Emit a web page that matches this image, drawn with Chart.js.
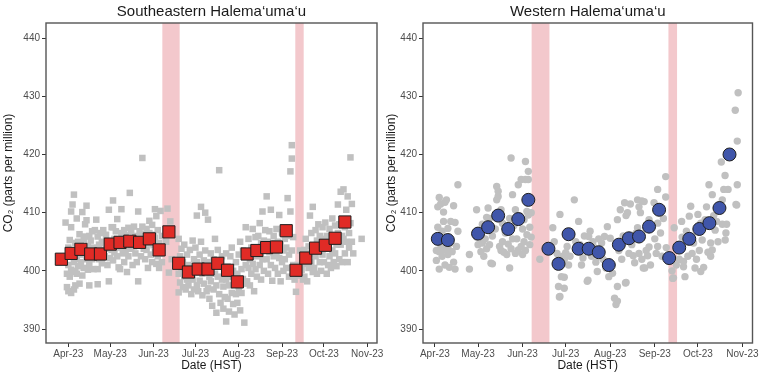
<!DOCTYPE html>
<html><head><meta charset="utf-8">
<script src="https://cdn.jsdelivr.net/npm/chart.js@4.4.0/dist/chart.umd.min.js"></script>
<style>
html,body{margin:0;padding:0;background:#fff;}
#wrap{position:relative;width:760px;height:378px;overflow:hidden;background:#fff;}
#c1{position:absolute;left:0;top:0;}
#c2{position:absolute;left:380px;top:0;}
</style></head><body>
<div id="wrap"><canvas id="c1" width="400" height="378"></canvas><canvas id="c2" width="380" height="378"></canvas></div>
<script>
// x values are days after 2023-04-01
const monthTicks = [0, 30, 61, 91, 122, 153, 183, 214];
const monthLabels = ['Apr-23','May-23','Jun-23','Jul-23','Aug-23','Sep-23','Oct-23','Nov-23'];
const yTicks = [390, 400, 410, 420, 430, 440];
const bandStart = [67.3, 162.5];
const bandEnd = [79.7, 168.5];

// Southeastern Halemaʻumaʻu — weekly means
const seWeekDays = [-5,2,9,16,23,30,37,44,51,58,65,72,79,86,93,100,107,114,121,128,135,142,149,156,163,170,177,184,191,198];
const seWeekMeans = [402.0,403.0,403.7,402.9,402.9,404.6,404.9,405.1,404.9,405.5,403.6,406.7,401.3,399.8,400.3,400.3,401.3,400.1,398.1,402.9,403.5,404.0,404.1,406.9,400.1,402.2,403.9,404.4,405.6,408.4];
// Southeastern — individual measurements [day, ppm]
const seSamples = [
[-2,408.3],[-1,399.5],[-1,397.2],[0,401],[0,404],[0,396.5],[1,399],[1,402.5],[1,405.3],[2,396.2],[2,400.2],[2,410.2],[2,407.5],[3,411.4],[3,403.5],[3,399.8],[4,413.1],[4,401.5],[4,396.8],[5,404.8],[5,400],[5,397.5],
[6,409],[6,402],[6,399.5],[7,405],[7,400.8],[8,406.3],[8,403],[8,397.8],[9,401.5],[9,404.5],[10,410.1],[10,402.8],[10,399.2],[11,405.5],[11,400.5],[12,405.9],[12,403],[12,408],
[13,411.2],[13,408.7],[13,402],[14,404.3],[14,400.2],[15,406],[15,401],[15,397.5],[16,403.5],[16,405.2],[17,402],[17,406.8],[18,400.3],[18,404],[19,403],[19,407],
[20,408.8],[20,402.8],[21,405.9],[21,400.3],[21,397.7],[22,404.5],[22,402],[23,406.5],[23,403.5],[24,401.3],[24,405],[25,407],[25,403],[26,402.5],[26,404.8],
[27,403.8],[27,406.2],[28,401],[28,405],[29,410.5],[29,398.2],[30,404],[30,402.2],[31,407.5],[31,403.6],[32,412.1],[32,407.5],[32,401.8],[33,405.5],[33,403.2],
[34,404.5],[34,406.8],[35,408.9],[35,402.5],[36,405.3],[36,400.6],[37,400.3],[37,404],[38,410.6],[38,406.5],[39,403],[39,405.8],[40,401.5],[40,407],
[41,403.4],[41,406.1],[42,404.8],[42,399.8],[43,407.4],[43,402.5],[44,413.4],[44,405.5],[45,403.8],[45,406.9],[46,401],[46,405.2],[47,404.2],[47,407.6],
[48,406],[48,403],[49,401.5],[49,405.4],[50,410.2],[50,398.2],[51,404.6],[51,406.8],[52,402.5],[52,405.9],[53,407.6],[53,419.4],[54,403.8],[54,406.3],
[55,402],[55,405],[56,407.2],[56,403.6],[57,404.7],[57,400.5],[58,406.5],[58,408.6],[59,402.8],[59,405.3],[60,407.9],[60,401.5],[61,404.4],[61,406.2],
[62,410.6],[62,403.2],[62,405.7],[63,409.4],[63,401.2],[64,407],[64,402.5],[65,404.8],[65,400.5],[66,410.3],[66,403],[67,406],[67,401.5],
[70,405],[71,410.7],[72,399.7],[73,408.5],[74,402],
[79,405.5],[79,399.5],[79,396.3],[80,402.5],[80,398],[81,400.5],[81,403.8],[82,397.2],[82,401.5],[83,399],[83,404.5],[84,396.8],[84,400.8],[85,398.5],[85,402.8],
[86,401],[86,397.5],[87,403.6],[87,399.3],[88,396],[88,400.5],[89,405.2],[89,398.5],[90,402],[90,396.8],[91,399.8],[91,404],[92,397.5],[92,401.5],[92,409.5],
[93,400],[93,396.5],[94,402.8],[94,398.3],[95,411],[95,405],[96,399.5],[96,395.8],[97,401.8],[97,397.8],[98,410],[98,403.5],[99,400.5],[99,396.5],
[100,408.8],[100,401.5],[100,397],[101,399],[101,395.2],[102,403],[102,398.2],[103,400.8],[103,394],[104,402],[104,396.8],[105,405.5],[105,399.5],[106,397.5],[106,392.8],
[107,403.6],[107,399],[108,417.3],[108,396],[109,401.5],[109,394.5],[110,398.5],[110,402.5],[111,393.5],[111,397.3],[112,400],[112,395.5],[113,391.3],[113,398.5],[113,403],
[114,400.8],[114,395.2],[115,397.5],[115,393],[116,402.5],[116,399],[117,396.2],[117,404],[118,394.3],[118,400],[119,398],[119,392.5],[120,396],[120,401.5],
[121,399.5],[121,394.5],[122,402.8],[122,397],[123,405],[123,393.2],[124,400.3],[124,396.2],[125,398.6],[125,403.5],[126,391.1],[126,397.8],[127,401],[127,407.5],
[128,403],[128,398.2],[129,400.5],[129,405.5],[130,397.5],[130,402],[131,404],[131,399.5],[132,407.2],[132,401.2],[133,403.2],[133,396.5],[134,400.3],[134,405.8],
[135,402.5],[135,399],[136,406],[136,403.8],[137,401],[137,408.2],[138,404.8],[138,398.5],[139,402],[139,410.2],[140,405.2],[140,400],[141,403.5],[141,407],
[142,412.8],[142,402],[143,405],[143,399.5],[144,403.2],[144,406.8],[145,401],[145,410.5],[146,404.2],[146,398.3],[147,406],[147,402.5],[148,400.5],[148,404.8],
[149,403],[149,407.2],[150,399.5],[150,405],[151,402.2],[151,409.6],[152,404.5],[152,398.2],[153,401.5],[153,406.6],[154,403.5],[154,400],[155,405.5],[155,402],
[156,404],[156,400.5],[157,412.5],[157,406],[158,402.8],[158,399],[159,417.1],[159,410.2],[160,421.6],[160,419.3],[160,403.5],[161,401],[161,405.8],[162,398.5],
[163,396.4],[164,401],[165,399.2],[166,403.5],[167,400.2],[168,398.5],
[169,403.6],[169,399],[170,401.2],[170,405.5],[171,398.2],[171,402.5],[172,404.2],[172,400.5],[173,409.5],[173,403],[174,401.5],[174,406.5],[175,411],[175,399.8],
[176,404],[176,400.5],[177,407],[177,402.5],[178,405.2],[178,399.5],[179,403.5],[179,408],[180,401.5],[180,406],[181,404.6],[181,400],[182,407.5],[182,402.8],
[183,405.5],[183,401.5],[184,403.8],[184,408.3],[185,399.5],[185,406],[186,404.2],[186,401],[187,407.2],[187,402.5],[188,405],[188,400.5],[189,403.5],[189,409],
[190,405.6],[190,401.5],[191,403],[191,407.8],[192,404.5],[192,400.8],[193,406.5],[193,411.4],[194,402],[194,408],[195,413.6],[195,404.5],[196,406],[196,401.5],
[197,414],[197,405.5],[198,407.5],[198,403],[199,410.5],[199,405],[200,412.8],[200,401.5],[201,406.5],[201,404],[202,419.5],[202,408.2],[203,405],[203,411.5],[204,403],[210,405.5]
];

// Western Halemaʻumaʻu — weekly means
const wWeekDays = [2,9,30,37,44,51,58,65,79,86,93,100,107,114,121,128,135,142,149,156,163,170,177,184,191,198,205];
const wWeekMeans = [405.5,405.3,406.4,407.5,409.5,407.2,408.9,412.2,403.8,401.2,406.3,403.8,403.8,403.2,401.0,404.5,405.6,405.9,407.6,410.5,402.2,404.0,405.5,407.2,408.2,410.8,420.0];
// Western — individual measurements [day, ppm]
const wSamples = [
[1,403.5],[1,401.8],[2,411],[2,407.5],[3,412.6],[3,400.3],[3,403.3],[4,411.5],[4,404.5],[5,406.8],[5,402.5],[6,410.1],[6,408.5],[6,403.6],[7,411.8],[7,401],[8,404.2],[8,412.2],[9,402.8],[9,407.3],[10,403.5],[10,400.6],[11,408.5],[11,404.8],[12,403.3],[13,411.2],[13,401.5],[14,408.3],[14,400.3],[15,404.2],[16,414.8],[16,406.8],
[24,402.8],[24,400.3],
[29,410.5],[29,405.8],[30,404.5],[31,406.2],[32,403.3],[33,408],[33,404.8],[34,402.5],[35,405.5],[36,409.2],[36,403.8],[37,410.8],[38,404.5],[38,409],[39,401.3],[40,401.2],[40,406],
[42,407.2],[43,412.2],[43,414.5],[44,413.7],[44,412.8],[45,404.2],[45,409.8],[46,403.5],[46,410.5],[47,405],[47,408.2],[48,403.2],
[49,406.5],[50,402.8],[51,404.6],[52,400.5],[52,409],[53,419.4],[53,403.8],[54,413.1],[54,405.5],[55,407.8],[56,403],[56,410.5],
[57,405.5],[58,414.8],[58,403.6],[59,409.5],[60,415.7],[60,404.2],[61,407.2],[61,402.8],[62,408.8],[62,405],[63,415.7],[63,418.8],[63,403.5],[64,410.2],[64,406.2],[65,417.1],[65,415.7],[65,409.6],[66,407.5],[66,404.5],[67,410],[67,405.8],
[73,402],
[82,407.4],[83,405],[84,401.5],[85,403],[86,397.3],[86.6,395.5],[87,409.7],[87,395.6],[88,399],[89,402.5],[90,401.9],[90,398.9],[90,397],[91,403.1],[92,404.2],[93,401],[94,402.5],[95,406],[97,412.2],
[98,405],[100,408.5],[101,404.5],[102,401],[103,402.2],[104,406],[106,398.2],[106.5,398.4],[107,405.9],[108,406.8],[109,402.5],[110,405],[111,404],[112,401.5],[113,399.9],[114,405.5],[115,403],[116,404.8],[117,402],[118,405.9],[119,400.5],[120,407.6],[121,399],[122,405.6],
[123.6,399.6],[125,395.3],[126,394.2],[127,397.3],[127,394.8],[127,408.8],[128,403.5],[129,410.5],[130,402],[131,406],[132,411.7],[132.6,397.9],[133,398],[133,409.5],[134,410],[135,403],[136,411.5],[137,404.5],[138,402.6],[139,401.4],[140,406.5],[141,412.2],[141,407.4],[142,403],[142,411],[143,410],[144,402],[144,412],[145,400.5],[145.6,411.9],[146,400.5],[147,403.5],[148,402.6],[149,408.8],[149,404.1],[150,401],
[152.5,411.7],[153,405.5],[154,403],[155,414],[155,408.2],[155,404.2],[157,406.5],[158,402.5],[159,409],[160.6,416.2],[160.6,412.7],[161,404],
[164,401.9],[165,400],[165.5,398.7],[166,398.8],[166.5,407.4],[168,401],
[170,402],[171.7,408.5],[172,405.8],[173,400.7],[173,401.6],[174,399],[175,406.8],[176,402.5],[177,409.4],[178,411.1],[179,403],[180,404.8],[181,400.5],[182,402],[183,409.7],[184,403.5],[185,408.2],[185,399.9],[186,405.3],[187,400.6],[188,408.8],[189,411],[190,403.2],[190.7,414.8],[191.9,404.8],[191.9,402.5],[193,413.1],[193,403.6],[194,409.5],[195,407],[196,408.5],[197,405],[199.3,418.7],[200,412.2],[200,408],[201,414],[201.9,416.4],[202,405.3],[202.5,406.5],[203,408],[204,414],[209.5,411.4],[210,411.3],[210.4,422.3],[210.4,414.8],[209,427.6],[211,430.6]
];

const FONT = '"Liberation Sans", Arial, Helvetica, sans-serif';
Chart.defaults.font.family = FONT;

const decor = {
  id: 'decor',
  beforeDatasetsDraw(chart) {
    const {ctx, chartArea: a, scales: {x}} = chart;
    ctx.save();
    ctx.fillStyle = '#f3c8cc';
    for (let i = 0; i < bandStart.length; i++) {
      const x0 = x.getPixelForValue(bandStart[i]);
      const x1 = x.getPixelForValue(bandEnd[i]);
      ctx.fillRect(x0, a.top, x1 - x0, a.bottom - a.top);
    }
    ctx.restore();
  },
  afterDraw(chart) {
    const {ctx, chartArea: a} = chart;
    ctx.save();
    ctx.strokeStyle = '#555';
    ctx.lineWidth = 1.4;
    ctx.strokeRect(a.left, a.top, a.right - a.left, a.bottom - a.top);
    ctx.restore();
  }
};

function makeChart(canvasId, cfg) {
  const gray = cfg.samples.map(p => ({x: p[0], y: p[1]}));
  const means = cfg.weekDays.map((d, i) => ({x: d, y: cfg.weekMeans[i]}));
  return new Chart(document.getElementById(canvasId), {
    type: 'scatter',
    data: {
      datasets: [
        {data: gray, order: 2, pointStyle: cfg.style, pointRadius: cfg.grayR, backgroundColor: '#c0c0c0', borderWidth: 0, borderColor: '#c0c0c0'},
        {data: means, order: 1, pointStyle: cfg.style, pointRadius: cfg.meanR, backgroundColor: cfg.color, borderColor: '#1f1f1f', borderWidth: 1}
      ]
    },
    options: {
      responsive: false,
      animation: false,
      events: [],
      layout: {padding: {left: 0, right: cfg.padRight, top: 0, bottom: 0}},
      plugins: {
        legend: {display: false},
        tooltip: {enabled: false},
        title: {display: true, text: cfg.title, fullSize: false, color: '#1a1a1a',
          font: {size: 15, weight: 'normal', family: FONT}, padding: {top: 3, bottom: 2}}
      },
      scales: {
        x: {
          type: 'linear', min: cfg.xmin, max: 221,
          afterBuildTicks: ax => { ax.ticks = monthTicks.map(v => ({value: v})); },
          afterFit: ax => { ax.height = 35; },
          ticks: {autoSkip: false, maxRotation: 0, color: '#4d4d4d', font: {size: 10}, padding: 1,
            callback: v => { const i = monthTicks.indexOf(v); return i >= 0 ? monthLabels[i] : ''; }},
          grid: {drawOnChartArea: false, drawTicks: true, tickLength: 4, color: '#333'},
          border: {display: false},
          title: {display: true, text: 'Date (HST)', color: '#1a1a1a', font: {size: 12}, padding: {top: 0, bottom: 5}}
        },
        y: {
          type: 'linear', min: 387.6, max: 442.6,
          afterBuildTicks: ax => { ax.ticks = yTicks.map(v => ({value: v})); },
          afterFit: ax => { ax.width = cfg.yWidth; },
          ticks: {color: '#4d4d4d', font: {size: 10}, padding: 2},
          grid: {drawOnChartArea: false, drawTicks: true, tickLength: 4, color: '#333'},
          border: {display: false},
          title: {display: true, text: '\u00a0\u00a0\u00a0\u00a0\u00a0\u00a0CO\u2082 (parts per million)', color: '#1a1a1a', font: {size: 12}, padding: {top: cfg.yTitlePad, bottom: 0}}
        }
      }
    },
    plugins: [decor]
  });
}

makeChart('c1', {title: 'Southeastern Halema\u2018uma\u2018u', samples: seSamples, weekDays: seWeekDays, weekMeans: seWeekMeans,
  style: 'rect', grayR: 4.6, meanR: 8.6, color: '#e02b26', xmin: -16, padRight: 23, yWidth: 46, yTitlePad: 1});
makeChart('c2', {title: 'Western Halema\u2018uma\u2018u', samples: wSamples, weekDays: wWeekDays, weekMeans: wWeekMeans,
  style: 'circle', grayR: 3.7, meanR: 6.5, color: '#4056aa', xmin: -8.3, padRight: 7, yWidth: 43, yTitlePad: 4});
</script>
</body></html>
